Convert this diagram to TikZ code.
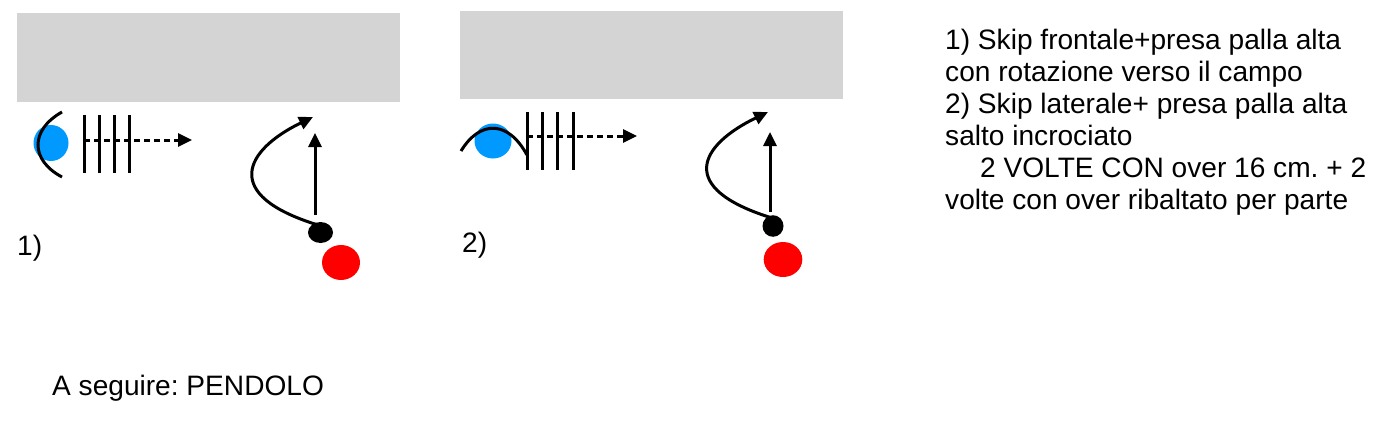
\documentclass[tikz,border=0pt]{standalone}
\usepackage{fontspec}
\setmainfont{Liberation Sans}
\usetikzlibrary{arrows.meta}
\definecolor{field}{HTML}{D4D4D4}
\definecolor{pblue}{HTML}{0099FF}
\definecolor{pred}{HTML}{FF0000}
\frenchspacing
\begin{document}
\begin{tikzpicture}[x=1pt,y=-1pt,
  field/.style={fill=field,draw=none},
  line/.style={line width=3pt,black},
  arr/.style={line width=3pt,black,-{Triangle[length=14pt,width=13pt]}},
  dasharr/.style={line width=3pt,black,dash pattern=on 6pt off 4pt,-{Triangle[length=14pt,width=13pt]}},
  txt/.style={inner sep=0pt,anchor=base west,font=\fontsize{28.1}{32}\selectfont},
]
\useasboundingbox (0,0) rectangle (1383,439);
\fill[white] (0,0) rectangle (1383,439);
% fields
\path[field] (17,13) rectangle (400,102);
\path[field] (460,11) rectangle (843,99);
% ---------- panel 1
\fill[pblue] (51,143) ellipse [x radius=17.5, y radius=18];
\draw[line] (62,112) .. controls (30,130) and (30,160) .. (62,177);
\foreach \x in {84,99,114,129} \draw[line] (\x,115) -- (\x,173);
\coordinate (d1s) at (84,140);
\coordinate (d1e) at (192,140);
\draw[dasharr] (d1s) -- (d1e);
\fill[black] (320.5,232.5) ellipse [x radius=12.5, y radius=10.5];
\fill[pred] (341,262.5) ellipse [x radius=19, y radius=17.5];
\coordinate (c1s) at (318,225);
\coordinate (c1e) at (313,117);
\draw[arr] (c1s) .. controls (220,195) and (245,150) .. (c1e);
\coordinate (s1s) at (315,215);
\coordinate (s1e) at (315,133);
\draw[arr] (s1s) -- (s1e);
\node[txt] (l1) at (17,255) {1)};
% ---------- panel 2
\fill[pblue] (493,141) ellipse [x radius=18.5, y radius=17.5];
\draw[line] (461,151) .. controls (480,120) and (508,120) .. (527,155);
\foreach \x in {527,542,557,573} \draw[line] (\x,112) -- (\x,170);
\coordinate (d2s) at (527,136);
\coordinate (d2e) at (637,136);
\draw[dasharr] (d2s) -- (d2e);
\fill[black] (773,226) ellipse [x radius=10.5, y radius=10.8];
\fill[pred] (783,259.5) ellipse [x radius=19.3, y radius=17.5];
\coordinate (c2s) at (772,218);
\coordinate (c2e) at (768,112);
\draw[arr] (c2s) .. controls (675,188) and (700,145) .. (c2e);
\coordinate (s2s) at (770,212);
\coordinate (s2e) at (770,132);
\draw[arr] (s2s) -- (s2e);
\node[txt] (l2) at (462,252) {2)};
% ---------- text
\node[txt] (t1) at (945,49) {1) Skip frontale+presa palla alta};
\node[txt] (t2) at (945,81) {con rotazione verso il campo};
\node[txt] (t3) at (945,113) {2) Skip laterale+ presa palla alta};
\node[txt] (t4) at (945,145) {salto incrociato};
\node[txt] (t5) at (980,177) {2 VOLTE CON over 16 cm. + 2};
\node[txt] (t6) at (945,209) {volte con over ribaltato per parte};
\node[txt] (t7) at (52,395) {A seguire: PENDOLO};
\end{tikzpicture}
\end{document}
